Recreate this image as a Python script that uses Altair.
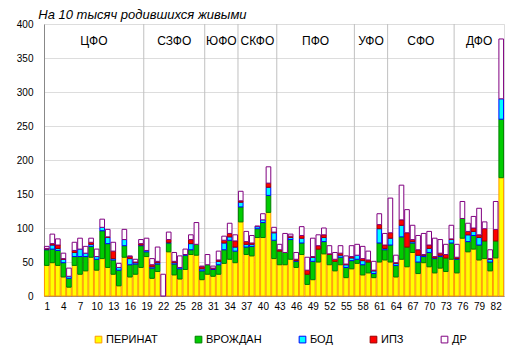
import altair as alt
import pandas as pd

regions = list(range(1, 84))
perinat = [45, 49, 45, 28, 13, 45, 32, 37, 57, 38, 55, 42, 32, 15, 57, 28, 32, 42,
           58, 26, 36, 0, 65, 31, 25, 39, 61, 60, 24,
           32, 29, 32, 48, 54, 49,
           109, 61, 59, 86, 86, 123, 55,
           46, 46, 54, 42, 61, 17, 24, 50, 62, 46, 37, 46, 27, 40,
           48, 31, 34, 27, 50, 53,
           50, 28, 54, 43, 64, 33, 49, 43, 34, 41, 36, 54,
           34, 85, 65, 69, 53, 55, 37, 56, 174]
vrozhd = [23, 20, 22, 21, 13, 13, 26, 21, 16, 16, 41, 35, 21, 23, 17, 18, 15, 32,
          7, 15, 11, 0, 13, 16, 15, 21, 7, 16, 13,
          14, 10, 14, 20, 28, 17,
          22, 11, 14, 13, 22, 25, 27,
          20, 18, 29, 9, 17, 15, 27, 19, 18, 15, 14, 11, 15, 12,
          6, 15, 16, 6, 28, 15,
          25, 17, 33, 29, 14, 17, 9, 21, 21, 17, 20, 24,
          20, 29, 15, 20, 22, 26, 13, 25, 86]
bod = [1, 6, 3, 5, 3, 6, 11, 5, 3, 4, 5, 9, 2, 4, 9, 9, 2, 1,
       2, 2, 2, 0, 1, 2, 2, 1, 9, 0, 3,
       0, 1, 5, 10, 5, 6,
       7, 4, 3, 3, 4, 12, 11,
       0, 0, 3, 1, 7, 0, 6, 0, 6, 0, 0, 3, 4, 4,
       6, 6, 0, 4, 21, 2,
       10, 3, 17, 0, 2, 10, 2, 6, 1, 2, 0, 5,
       1, 0, 10, 6, 11, 0, 4, 0, 30]
ipz = [1, 2, 5, 1, 0, 3, 0, 0, 3, 0, 0, 1, 11, 0, 0, 3, 1, 2,
       0, 3, 2, 0, 4, 2, 0, 0, 6, 0, 3,
       0, 1, 2, 4, 5, 9,
       2, 4, 2, 0, 0, 6, 1,
       2, 0, 2, 2, 4, 6, 1, 5, 4, 1, 3, 3, 1, 2,
       0, 3, 3, 1, 6, 5,
       8, 1, 8, 21, 3, 8, 1, 5, 2, 3, 5, 1,
       2, 0, 5, 5, 4, 18, 1, 17, 0]
dr = [3, 14, 9, 8, 12, 12, 16, 10, 6, 11, 12, 11, 13, 6, 15, 1, 4, 6,
      18, 9, 21, 32, 11, 13, 17, 8, 7, 32, 1,
      15, 3, 13, 6, 15, 9,
      14, 15, 11, 1, 9, 24, 7,
      8, 28, 3, 10, 13, 19, 27, 16, 10, 12, 10, 11, 12, 16,
      16, 18, 13, 13, 16, 17,
      51, 11, 51, 34, 21, 21, 31, 20, 27, 20, 15, 20,
      19, 25, 12, 17, 39, 10, 13, 41, 88]

categories = ["ПЕРИНАТ", "ВРОЖДАН", "БОД", "ИПЗ", "ДР"]
fills = ["#FFFF00", "#00CC00", "#00FFFF", "#FF0000", "#FFFFFF"]
strokes = ["#FF9900", "#008000", "#0000FF", "#990000", "#800080"]

districts = ["ЦФО", "СЗФО", "ЮФО", "СКФО", "ПФО", "УФО", "СФО", "ДФО"]
district_sizes = [18, 11, 6, 7, 14, 6, 12, 9]
tick_labels = list(range(1, 84, 3))
y_ticks = list(range(0, 401, 50))

# stacked segments
rows = []
series = [perinat, vrozhd, bod, ipz, dr]
for i, r in enumerate(regions):
    base = 0
    for k, cat in enumerate(categories):
        v = series[k][i]
        if v > 0:
            rows.append({"region": r, "cat": cat, "order": k, "y0": base, "y1": base + v})
        base += v
df = pd.DataFrame(rows)

# district boundaries and centers
bounds = []
centers = []
start = 0.5
for n in district_sizes:
    end = start + n
    centers.append((start + end) / 2)
    bounds.append(end)
    start = end
bdf = pd.DataFrame({"pos": bounds[:-1]})
ddf = pd.DataFrame({"name": districts, "center": centers})

xscale = alt.Scale(domain=[0.5, 83.5], nice=False, zero=False)
yscale = alt.Scale(domain=[0, 400], nice=False)
xaxis = alt.Axis(values=tick_labels, title=None, grid=False, ticks=False,
                 labelPadding=5, labelFlush=False, labelOverlap=False)
yaxis = alt.Axis(values=y_ticks, title=None, grid=True, ticks=False, labelPadding=11)

leg = alt.Legend(title=None, orient="none", legendX=49, legendY=310,
                 direction="horizontal", symbolType="square", symbolSize=45,
                 symbolStrokeWidth=1, labelFont="Liberation Sans", labelFontSize=11,
                 labelColor="black", columnPadding=35, labelOffset=2)

rules = alt.Chart(bdf).mark_rule(color="#C0C0C0", strokeWidth=1).encode(
    x=alt.X("pos:Q", scale=xscale, axis=xaxis),
    y=alt.Y("y0:Q", scale=yscale, axis=yaxis),
    y2="y1:Q",
).transform_calculate(y0="0", y1="400")

bars = alt.Chart(df).transform_calculate(
    x0="datum.region - 0.42", x1="datum.region + 0.42"
).mark_bar(strokeWidth=1).encode(
    x=alt.X("x0:Q", scale=xscale, axis=xaxis),
    x2="x1:Q",
    y=alt.Y("y0:Q", scale=yscale, axis=yaxis),
    y2="y1:Q",
    fill=alt.Fill("cat:N", scale=alt.Scale(domain=categories, range=fills), legend=leg),
    stroke=alt.Stroke("cat:N", scale=alt.Scale(domain=categories, range=strokes), legend=leg),
    order=alt.Order("order:Q"),
)

labels = alt.Chart(ddf).transform_calculate(y0="375").mark_text(
    font="Liberation Sans", fontSize=12, color="black").encode(
    x=alt.X("center:Q", scale=xscale, axis=xaxis),
    y=alt.Y("y0:Q", scale=yscale, axis=yaxis),
    text="name:N",
)

chart = alt.layer(rules, bars, labels).properties(
    width=460,
    height=272,
    padding={"left": 36, "top": 16, "right": 6, "bottom": 50},
    autosize=alt.AutoSizeParams(type="none"),
    title=alt.TitleParams("На 10 тысяч родившихся живыми", anchor="start",
                          fontStyle="italic", fontWeight="normal", fontSize=13,
                          font="Liberation Sans", color="black", dx=22, offset=-3),
).configure_view(
    stroke="black", strokeWidth=1
).configure_axis(
    labelFont="Liberation Sans", labelFontSize=12, labelColor="black",
    domainColor="black", gridColor="#C0C0C0", gridWidth=1
).configure(background="white")

chart.save("out.html", embed_options={"renderer": "svg", "actions": False})
